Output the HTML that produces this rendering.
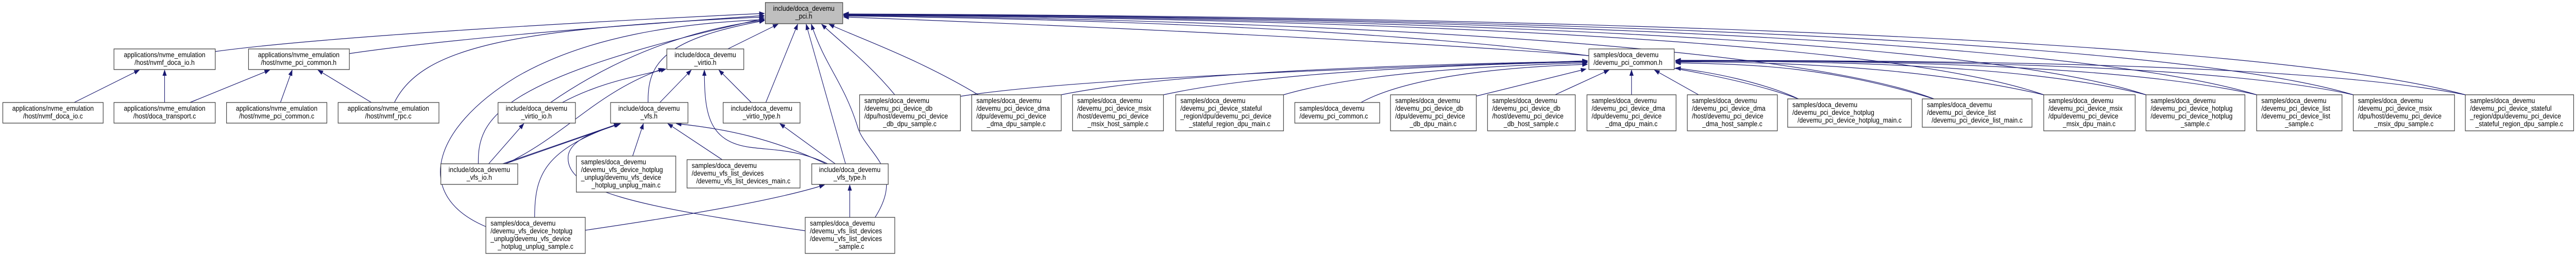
<!DOCTYPE html>
<html><head><meta charset="utf-8"><style>
html,body{margin:0;padding:0;background:#fff;width:5493px;height:497px;overflow:hidden;}
svg{display:block;position:absolute;left:0;top:0;width:100vw;height:100vh;}
text{font-family:"Liberation Sans",Arial,sans-serif;font-size:13.5px;fill:#000;}
.b{fill:#fff;stroke:#404040;stroke-width:1.3;}
.g{fill:#bfbfbf;stroke:#404040;stroke-width:1.3;}
path.e{fill:none;stroke:#191970;stroke-width:1.2;}
</style></head><body>
<svg viewBox="0 0 5493 497" preserveAspectRatio="none" xmlns="http://www.w3.org/2000/svg">
<defs><marker id="a" markerWidth="12" markerHeight="9" refX="11" refY="4.5" orient="auto" markerUnits="userSpaceOnUse"><path d="M0,0 L12,4.5 L0,9 z" fill="#191970"/></marker></defs>
<g marker-end="url(#a)">
<path class="e" d="M459,100 C700,70 1300,40 1630,26"/>
<path class="e" d="M745,104 C1000,70 1400,45 1630,30"/>
<path class="e" d="M158,199 L297,136"/>
<path class="e" d="M351,199 L351,136"/>
<path class="e" d="M405,199 L575,136"/>
<path class="e" d="M598,199 L623,136"/>
<path class="e" d="M792,199 L678,136"/>
<path class="e" d="M841,199 C900,90 1100,55 1630,33"/>
<path class="e" d="M1020,318 C1018,230 1060,150 1630,36"/>
<path class="e" d="M1036,440 C880,380 920,250 1100,150 C1250,70 1450,45 1630,38"/>
<path class="e" d="M1140,422 C1140,340 1160,290 1321,240"/>
<path class="e" d="M1248,447 C1450,420 1650,390 1758,359"/>
<path class="e" d="M1042,318 L1117,240"/>
<path class="e" d="M1072,318 L1320,240"/>
<path class="e" d="M1077,318 L1323,240"/>
<path class="e" d="M1079,318 C1210,260 1270,180 1415,133"/>
<path class="e" d="M1174,199 C1300,120 1450,60 1630,39"/>
<path class="e" d="M1199,199 C1280,160 1350,150 1420,134"/>
<path class="e" d="M1552,95 L1659,47"/>
<path class="e" d="M1382,199 C1380,120 1420,75 1630,40"/>
<path class="e" d="M1407,199 L1474,136"/>
<path class="e" d="M1602,199 L1533,136"/>
<path class="e" d="M1633,199 L1701,47"/>
<path class="e" d="M1765,318 C1700,290 1650,292 1600,286 C1510,275 1502,220 1502,136"/>
<path class="e" d="M1761,318 C1650,270 1550,250 1442,240"/>
<path class="e" d="M1781,318 L1663,240"/>
<path class="e" d="M1803,318 L1719,47"/>
<path class="e" d="M1349,303 L1372,240"/>
<path class="e" d="M1540,310 L1424,240"/>
<path class="e" d="M1717,448 C1350,400 1200,370 1212,300 C1220,270 1270,255 1323,240"/>
<path class="e" d="M1812,422 L1812,359"/>
<path class="e" d="M1866,422 C1930,330 1850,300 1830,250 C1800,160 1760,130 1730,47"/>
<path class="e" d="M1908,184 C1850,120 1790,80 1752,47"/>
<path class="e" d="M2086,184 C1950,110 1820,70 1768,47"/>
<path class="e" d="M2048,187 C2300,150 3000,130 3385,118"/>
<path class="e" d="M2263,184 C2500,140 3000,125 3385,119"/>
<path class="e" d="M2481,184 C2700,140 3100,126 3385,120"/>
<path class="e" d="M2737,184 C2900,140 3200,127 3385,122"/>
<path class="e" d="M2902,199 C3000,150 3200,130 3385,125"/>
<path class="e" d="M3146,187 L3382,134"/>
<path class="e" d="M3316,184 L3431,136"/>
<path class="e" d="M3479,184 L3479,136"/>
<path class="e" d="M3622,184 L3528,136"/>
<path class="e" d="M3835,192 C3760,160 3650,140 3573,132"/>
<path class="e" d="M4124,192 C3900,130 3750,125 3573,122"/>
<path class="e" d="M4358,184 C4100,130 3800,120 3573,120"/>
<path class="e" d="M4576,184 C4300,120 3800,118 3573,119"/>
<path class="e" d="M4812,184 C4500,120 3900,118 3573,118"/>
<path class="e" d="M5018,184 C4700,120 4000,118 3573,118"/>
<path class="e" d="M5257,184 C4900,120 4100,118 3573,117"/>
<path class="e" d="M3388,108 C3000,80 2300,50 1799,33"/>
<path class="e" d="M3835,192 C3500,80 2600,40 1799,31"/>
<path class="e" d="M4124,192 C3800,80 2700,38 1799,30"/>
<path class="e" d="M4358,184 C4000,70 2800,36 1799,29"/>
<path class="e" d="M4576,184 C4200,70 2900,34 1799,29"/>
<path class="e" d="M4812,184 C4400,70 3000,33 1799,28"/>
<path class="e" d="M5018,184 C4600,70 3100,32 1799,28"/>
<path class="e" d="M5257,184 C4800,70 3200,31 1799,27"/>
</g>

<rect class="g" x="1632" y="5" width="165" height="41"/>
<text x="1714" y="21" text-anchor="middle">include/doca_devemu</text><text x="1714" y="36" text-anchor="middle">_pci.h</text>

<rect class="b" x="243" y="95" width="216" height="40"/>
<text x="351" y="111" text-anchor="middle">applications/nvme_emulation</text><text x="351" y="126" text-anchor="middle">/host/nvmf_doca_io.h</text>
<rect class="b" x="530" y="95" width="215" height="40"/>
<text x="637" y="111" text-anchor="middle">applications/nvme_emulation</text><text x="637" y="126" text-anchor="middle">/host/nvme_pci_common.h</text>

<rect class="b" x="6" y="199" width="214" height="40"/>
<text x="113" y="215" text-anchor="middle">applications/nvme_emulation</text><text x="113" y="230" text-anchor="middle">/host/nvmf_doca_io.c</text>
<rect class="b" x="243" y="199" width="216" height="40"/>
<text x="351" y="215" text-anchor="middle">applications/nvme_emulation</text><text x="351" y="230" text-anchor="middle">/host/doca_transport.c</text>
<rect class="b" x="483" y="199" width="214" height="40"/>
<text x="590" y="215" text-anchor="middle">applications/nvme_emulation</text><text x="590" y="230" text-anchor="middle">/host/nvme_pci_common.c</text>
<rect class="b" x="721" y="199" width="215" height="40"/>
<text x="828" y="215" text-anchor="middle">applications/nvme_emulation</text><text x="828" y="230" text-anchor="middle">/host/nvmf_rpc.c</text>

<rect class="b" x="940" y="318" width="164" height="40"/>
<text x="1022" y="334" text-anchor="middle">include/doca_devemu</text><text x="1022" y="349" text-anchor="middle">_vfs_io.h</text>
<rect class="b" x="1422" y="95" width="164" height="40"/>
<text x="1504" y="111" text-anchor="middle">include/doca_devemu</text><text x="1504" y="126" text-anchor="middle">_virtio.h</text>
<rect class="b" x="1062" y="199" width="165" height="40"/>
<text x="1144" y="215" text-anchor="middle">include/doca_devemu</text><text x="1144" y="230" text-anchor="middle">_virtio_io.h</text>
<rect class="b" x="1302" y="199" width="165" height="40"/>
<text x="1384" y="215" text-anchor="middle">include/doca_devemu</text><text x="1384" y="230" text-anchor="middle">_vfs.h</text>
<rect class="b" x="1542" y="199" width="164" height="40"/>
<text x="1624" y="215" text-anchor="middle">include/doca_devemu</text><text x="1624" y="230" text-anchor="middle">_virtio_type.h</text>
<rect class="b" x="1731" y="318" width="163" height="40"/>
<text x="1812" y="334" text-anchor="middle">include/doca_devemu</text><text x="1812" y="349" text-anchor="middle">_vfs_type.h</text>

<rect class="b" x="1036" y="422" width="212" height="70"/>
<text x="1046" y="438">samples/doca_devemu</text><text x="1046" y="453">/devemu_vfs_device_hotplug</text><text x="1046" y="468">_unplug/devemu_vfs_device</text><text x="1142" y="483" text-anchor="middle">_hotplug_unplug_sample.c</text>
<rect class="b" x="1229" y="303" width="212" height="70"/>
<text x="1239" y="319">samples/doca_devemu</text><text x="1239" y="334">/devemu_vfs_device_hotplug</text><text x="1239" y="349">_unplug/devemu_vfs_device</text><text x="1335" y="364" text-anchor="middle">_hotplug_unplug_main.c</text>
<rect class="b" x="1465" y="310" width="241" height="55"/>
<text x="1475" y="326">samples/doca_devemu</text><text x="1475" y="341">/devemu_vfs_list_devices</text><text x="1585" y="356" text-anchor="middle">/devemu_vfs_list_devices_main.c</text>
<rect class="b" x="1717" y="422" width="191" height="70"/>
<text x="1727" y="438">samples/doca_devemu</text><text x="1727" y="453">/devemu_vfs_list_devices</text><text x="1727" y="468">/devemu_vfs_list_devices</text><text x="1812" y="483" text-anchor="middle">_sample.c</text>

<rect class="b" x="1833" y="184" width="215" height="70"/>
<text x="1843" y="200">samples/doca_devemu</text><text x="1843" y="215">/devemu_pci_device_db</text><text x="1843" y="230">/dpu/host/devemu_pci_device</text><text x="1940" y="245" text-anchor="middle">_db_dpu_sample.c</text>
<rect class="b" x="2072" y="184" width="191" height="70"/>
<text x="2082" y="200">samples/doca_devemu</text><text x="2082" y="215">/devemu_pci_device_dma</text><text x="2082" y="230">/dpu/devemu_pci_device</text><text x="2167" y="245" text-anchor="middle">_dma_dpu_sample.c</text>
<rect class="b" x="2287" y="184" width="194" height="70"/>
<text x="2297" y="200">samples/doca_devemu</text><text x="2297" y="215">/devemu_pci_device_msix</text><text x="2297" y="230">/host/devemu_pci_device</text><text x="2384" y="245" text-anchor="middle">_msix_host_sample.c</text>
<rect class="b" x="2507" y="184" width="230" height="70"/>
<text x="2517" y="200">samples/doca_devemu</text><text x="2517" y="215">/devemu_pci_device_stateful</text><text x="2517" y="230">_region/dpu/devemu_pci_device</text><text x="2622" y="245" text-anchor="middle">_stateful_region_dpu_main.c</text>
<rect class="b" x="2761" y="199" width="181" height="40"/>
<text x="2771" y="215">samples/doca_devemu</text><text x="2771" y="230">/devemu_pci_common.c</text>
<rect class="b" x="2965" y="184" width="183" height="70"/>
<text x="2975" y="200">samples/doca_devemu</text><text x="2975" y="215">/devemu_pci_device_db</text><text x="2975" y="230">/dpu/devemu_pci_device</text><text x="3056" y="245" text-anchor="middle">_db_dpu_main.c</text>
<rect class="b" x="3388" y="95" width="182" height="40"/>
<text x="3398" y="111">samples/doca_devemu</text><text x="3398" y="126">/devemu_pci_common.h</text>
<rect class="b" x="3172" y="184" width="187" height="70"/>
<text x="3182" y="200">samples/doca_devemu</text><text x="3182" y="215">/devemu_pci_device_db</text><text x="3182" y="230">/host/devemu_pci_device</text><text x="3265" y="245" text-anchor="middle">_db_host_sample.c</text>
<rect class="b" x="3384" y="184" width="190" height="70"/>
<text x="3394" y="200">samples/doca_devemu</text><text x="3394" y="215">/devemu_pci_device_dma</text><text x="3394" y="230">/dpu/devemu_pci_device</text><text x="3479" y="245" text-anchor="middle">_dma_dpu_main.c</text>
<rect class="b" x="3598" y="184" width="192" height="70"/>
<text x="3608" y="200">samples/doca_devemu</text><text x="3608" y="215">/devemu_pci_device_dma</text><text x="3608" y="230">/host/devemu_pci_device</text><text x="3694" y="245" text-anchor="middle">_dma_host_sample.c</text>
<rect class="b" x="3812" y="192" width="264" height="55"/>
<text x="3822" y="208">samples/doca_devemu</text><text x="3822" y="223">/devemu_pci_device_hotplug</text><text x="3944" y="238" text-anchor="middle">/devemu_pci_device_hotplug_main.c</text>
<rect class="b" x="4099" y="192" width="234" height="55"/>
<text x="4109" y="208">samples/doca_devemu</text><text x="4109" y="223">/devemu_pci_device_list</text><text x="4216" y="238" text-anchor="middle">/devemu_pci_device_list_main.c</text>
<rect class="b" x="4358" y="184" width="195" height="70"/>
<text x="4368" y="200">samples/doca_devemu</text><text x="4368" y="215">/devemu_pci_device_msix</text><text x="4368" y="230">/dpu/devemu_pci_device</text><text x="4455" y="245" text-anchor="middle">_msix_dpu_main.c</text>
<rect class="b" x="4576" y="184" width="211" height="70"/>
<text x="4586" y="200">samples/doca_devemu</text><text x="4586" y="215">/devemu_pci_device_hotplug</text><text x="4586" y="230">/devemu_pci_device_hotplug</text><text x="4681" y="245" text-anchor="middle">_sample.c</text>
<rect class="b" x="4812" y="184" width="182" height="70"/>
<text x="4822" y="200">samples/doca_devemu</text><text x="4822" y="215">/devemu_pci_device_list</text><text x="4822" y="230">/devemu_pci_device_list</text><text x="4903" y="245" text-anchor="middle">_sample.c</text>
<rect class="b" x="5018" y="184" width="216" height="70"/>
<text x="5028" y="200">samples/doca_devemu</text><text x="5028" y="215">/devemu_pci_device_msix</text><text x="5028" y="230">/dpu/host/devemu_pci_device</text><text x="5126" y="245" text-anchor="middle">_msix_dpu_sample.c</text>
<rect class="b" x="5257" y="184" width="231" height="70"/>
<text x="5267" y="200">samples/doca_devemu</text><text x="5267" y="215">/devemu_pci_device_stateful</text><text x="5267" y="230">_region/dpu/devemu_pci_device</text><text x="5372" y="245" text-anchor="middle">_stateful_region_dpu_sample.c</text>
</svg>
</body></html>
